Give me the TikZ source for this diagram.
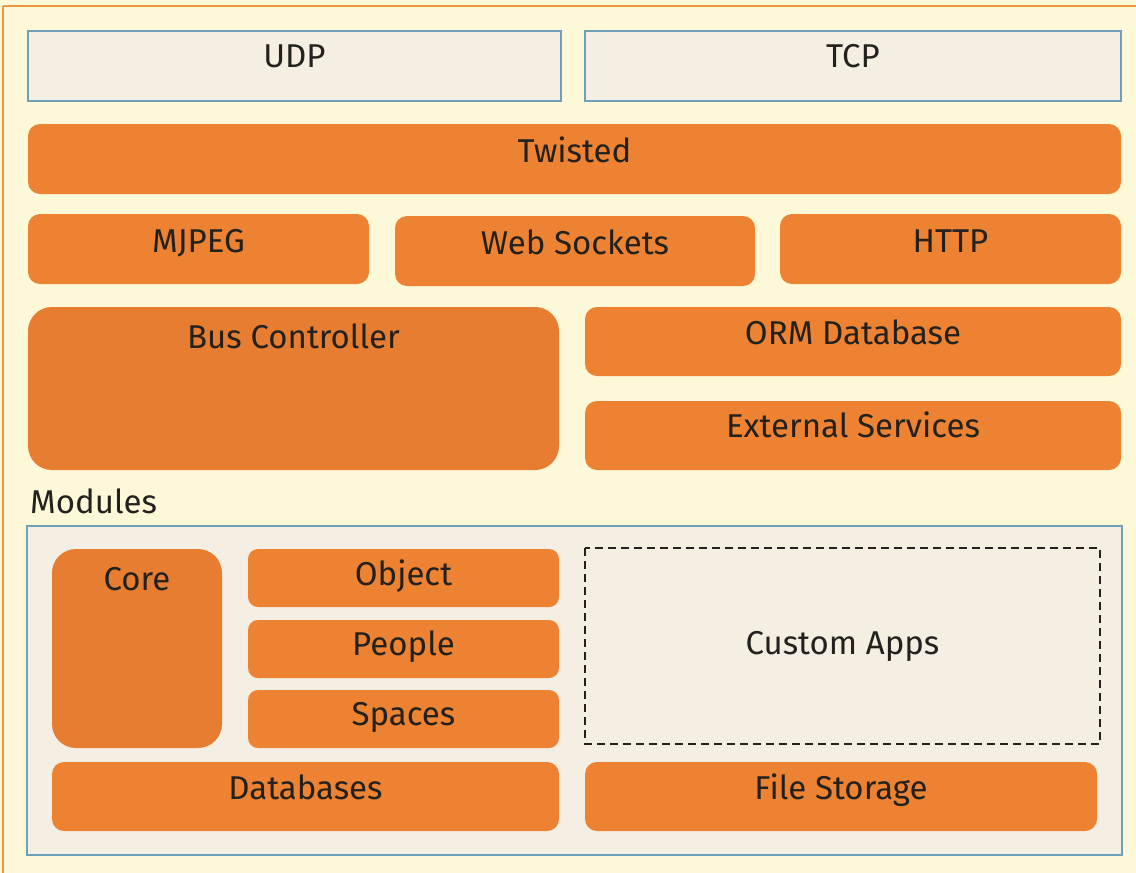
\documentclass[tikz,border=0pt]{standalone}
\usepackage{fontspec}
\setmainfont{Fira Sans}
\usetikzlibrary{positioning}

\definecolor{paper}{RGB}{253,248,216}
\definecolor{edge}{RGB}{240,150,60}
\definecolor{layer}{RGB}{236,130,50}
\definecolor{layerdark}{RGB}{230,125,48}
\definecolor{pane}{RGB}{245,238,226}
\definecolor{paneline}{RGB}{110,160,185}
\definecolor{ink}{RGB}{35,33,30}

\tikzset{
  obox/.style={fill=layer, rounded corners=12pt},
  bigbox/.style={fill=layerdark, rounded corners=24pt},
  pane/.style={fill=pane, draw=paneline, line width=1.2pt},
  lbl/.style={anchor=base, text=ink, inner sep=0pt, font=\fontsize{33}{39}\selectfont},
}

\begin{document}
\begin{tikzpicture}[x=1pt, y=-1pt]
    \useasboundingbox (0,0) rectangle (1136,873);
    \fill[paper] (0,0) rectangle (1136,873);
    \draw[edge, line width=1.5pt] (3,6) -- (1140,6);   % Rand
    \draw[edge, line width=1.5pt] (3,6) -- (3,880);

    % Transporte
    \draw[pane] (28,31) rectangle (561,101);
    \node[lbl] (udp) at (294.5,67) {UDP};
    \draw[pane] (585,31) rectangle (1121,101);
    \node[lbl] (tcp) at (853,67) {TCP};

    % Servidor
    \fill[obox] (28,124) rectangle (1121,194);
    \node[lbl] (twisted) at (574.5,162) {Twisted};
    \fill[obox] (28,214) rectangle (369,284);
    \node[lbl] (mjpeg) at (198.5,252) {MJPEG};
    \fill[obox] (395,216) rectangle (755,286);
    \node[lbl] (websockets) at (575,254) {Web Sockets};
    \fill[obox] (780,214) rectangle (1121,284);
    \node[lbl] (http) at (950.5,252) {HTTP};

    \fill[bigbox] (28,307) rectangle (559,470);
    \node[lbl] (bus) at (293.5,348) {Bus Controller};
    \fill[obox] (585,307) rectangle (1121,376);
    \node[lbl] (orm) at (853,344) {ORM Database};
    \fill[obox] (585,401) rectangle (1121,470);
    \node[lbl] (external) at (853,437) {External Services};

    % Modulos
    \node[lbl, anchor=base west] (modules) at (30,513) {Modules};
    \draw[pane] (27,526) rectangle (1122,855);
    \fill[bigbox] (52,549) rectangle (222,748);
    \node[lbl] (core) at (137,590) {Core};
    \fill[obox, rounded corners=10pt] (248,549) rectangle (559,607);
    \node[lbl] (object) at (403.5,585) {Object};
    \fill[obox, rounded corners=10pt] (248,620) rectangle (559,678);
    \node[lbl] (people) at (403.5,655) {People};
    \fill[obox, rounded corners=10pt] (248,690) rectangle (559,748);
    \node[lbl] (spaces) at (403.5,725) {Spaces};
    \draw[ink, line width=2pt, dash pattern=on 8pt off 5pt] (585,548) rectangle (1100,744);
    \node[lbl] (custom) at (842.5,654) {Custom Apps};
    \fill[obox] (52,762) rectangle (559,831);
    \node[lbl] (databases) at (305.5,799) {Databases};
    \fill[obox] (585,762) rectangle (1097,831);
    \node[lbl] (storage) at (841,799) {File Storage};
\end{tikzpicture}
\end{document}
